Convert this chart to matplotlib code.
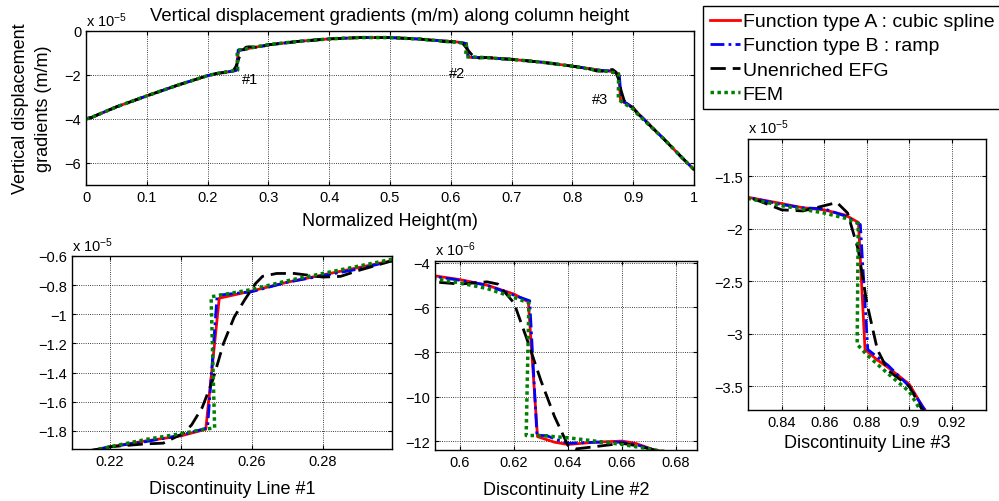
import matplotlib
matplotlib.use("Agg")
import matplotlib.pyplot as plt
import numpy as np
from matplotlib.ticker import FuncFormatter

plt.rcParams['font.family'] = ['Liberation Sans', 'DejaVu Sans']
plt.rcParams['mathtext.fontset'] = 'custom'
plt.rcParams['mathtext.rm'] = 'Liberation Sans'
plt.rcParams['mathtext.it'] = 'Liberation Sans'

# all gradient values in units of 1e-5 m/m
# smooth parts shared by all methods
base_left_x = [0.0, 0.01, 0.02, 0.05, 0.1, 0.15, 0.2]
base_left_y = [-4.0, -3.92, -3.80, -3.45, -2.95, -2.47, -2.03]
base_mid1_x = [0.35, 0.4, 0.45, 0.5, 0.55]
base_mid1_y = [-0.47, -0.36, -0.3, -0.3, -0.37]
base_mid2_x = [0.7, 0.75, 0.8]
base_mid2_y = [-1.29, -1.42, -1.6]
base_right_x = [0.95, 0.98, 1.0]
base_right_y = [-4.9, -5.75, -6.3]

# discontinuity #1
a1_x = [0.215, 0.22, 0.23, 0.24, 0.247, 0.2508, 0.26, 0.27, 0.28, 0.29, 0.3]
a1_y = [-1.935, -1.91, -1.87, -1.835, -1.79, -0.89, -0.84, -0.78, -0.73, -0.68, -0.63]
b1_x = [0.215, 0.22, 0.23, 0.24, 0.2475, 0.2502, 0.26, 0.27, 0.28, 0.29, 0.3]
b1_y = [-1.935, -1.91, -1.875, -1.83, -1.78, -0.87, -0.845, -0.78, -0.735, -0.69, -0.63]
e1_x = [0.215, 0.22, 0.23, 0.235, 0.2405, 0.243, 0.246, 0.249, 0.252, 0.255, 0.258,
        0.261, 0.263, 0.267, 0.272, 0.28, 0.285, 0.29, 0.3]
e1_y = [-1.935, -1.91, -1.89, -1.885, -1.82, -1.76, -1.64, -1.45, -1.2, -1.02, -0.9,
        -0.79, -0.74, -0.72, -0.72, -0.745, -0.74, -0.7, -0.63]
f1_x = [0.215, 0.22, 0.23, 0.24, 0.2465, 0.2495, 0.2485, 0.252, 0.26, 0.27, 0.28, 0.29, 0.3]
f1_y = [-1.935, -1.91, -1.86, -1.82, -1.79, -1.78, -0.88, -0.865, -0.83, -0.77, -0.72, -0.67, -0.62]

# discontinuity #2
a2_x = [0.59, 0.6, 0.61, 0.62, 0.6253, 0.6287, 0.635, 0.64, 0.65, 0.66, 0.665, 0.672]
a2_y = [-0.457, -0.475, -0.5, -0.54, -0.575, -1.18, -1.205, -1.215, -1.205, -1.2, -1.21, -1.24]
b2_x = [0.59, 0.6, 0.61, 0.62, 0.6258, 0.6285, 0.632, 0.635, 0.64, 0.65, 0.66, 0.665, 0.672]
b2_y = [-0.46, -0.478, -0.5, -0.545, -0.57, -1.175, -1.175, -1.19, -1.21, -1.205, -1.205, -1.215, -1.24]
e2_x = [0.59, 0.6, 0.605, 0.61, 0.614, 0.62, 0.625, 0.63, 0.635, 0.64, 0.643, 0.65, 0.66, 0.665, 0.672]
e2_y = [-0.485, -0.495, -0.49, -0.485, -0.495, -0.58, -0.75, -0.93, -1.09, -1.22, -1.235, -1.225,
        -1.21, -1.22, -1.24]
f2_x = [0.59, 0.6, 0.61, 0.62, 0.6255, 0.6245, 0.63, 0.64, 0.65, 0.66, 0.67, 0.672]
f2_y = [-0.47, -0.49, -0.515, -0.555, -0.58, -1.175, -1.175, -1.185, -1.2, -1.215, -1.235, -1.24]

# discontinuity #3
a3_x = [0.8241, 0.84, 0.85, 0.86, 0.87, 0.8761, 0.8792, 0.885, 0.89, 0.9, 0.9065]
a3_y = [-1.7, -1.76, -1.8, -1.82, -1.87, -1.94, -3.15, -3.25, -3.32, -3.48, -3.7]
b3_x = [0.8241, 0.84, 0.85, 0.86, 0.87, 0.877, 0.8805, 0.883, 0.89, 0.9, 0.9065]
b3_y = [-1.7, -1.77, -1.8, -1.81, -1.88, -1.96, -3.15, -3.19, -3.3, -3.5, -3.7]
e3_x = [0.8241, 0.83, 0.84, 0.85, 0.86, 0.866, 0.871, 0.876, 0.88, 0.885, 0.89, 0.9, 0.906]
e3_y = [-1.7, -1.74, -1.82, -1.83, -1.78, -1.75, -1.85, -2.2, -2.7, -3.15, -3.35, -3.5, -3.72]
f3_x = [0.8241, 0.84, 0.86, 0.87, 0.876, 0.8755, 0.88, 0.89, 0.9, 0.905]
f3_y = [-1.71, -1.78, -1.85, -1.9, -1.95, -3.1, -3.2, -3.38, -3.55, -3.72]

labels = ["Function type A : cubic spline", "Function type B : ramp",
          "Unenriched EFG", "FEM"]


def join(j1, j2, j3):
    xs = base_left_x + j1[0] + base_mid1_x + j2[0] + base_mid2_x + j3[0] + base_right_x
    ys = base_left_y + j1[1] + base_mid1_y + j2[1] + base_mid2_y + j3[1] + base_right_y
    return np.array(xs), np.array(ys)


series = [
    join((a1_x, a1_y), (a2_x, a2_y), (a3_x, a3_y)),
    join((b1_x, b1_y), (b2_x, b2_y), (b3_x, b3_y)),
    join((e1_x, e1_y), (e2_x, e2_y), (e3_x, e3_y)),
    join((f1_x, f1_y), (f2_x, f2_y), (f3_x, f3_y)),
]
styles = [
    dict(color=(1, 0, 0), ls='-', lw=2.0),
    dict(color=(0, 0, 1), ls=(0, (5, 1.5, 1, 1.5)), lw=2.0),
    dict(color='black', ls=(0, (5.5, 2.5)), lw=2.0),
    dict(color=(0, 0.5, 0), ls=(0, (1, 1)), lw=2.5),
]

fmt = FuncFormatter(lambda v, _: f"{v:g}".replace('-', '\u2212'))


def style_axes(ax, scale_text):
    ax.grid(True, ls=':', color='black', lw=0.6)
    ax.tick_params(direction='in', top=True, right=True, labelsize=10.5, length=3)
    for s in ax.spines.values():
        s.set_linewidth(1.0)
    ax.xaxis.set_major_formatter(fmt)
    ax.yaxis.set_major_formatter(fmt)
    ax.text(0, 1.012, scale_text, transform=ax.transAxes, ha='left', va='bottom', fontsize=10.5)


fig = plt.figure(figsize=(9.99, 5.02), dpi=100)

ax0 = fig.add_axes([0.0861, 0.6295, 0.6086, 0.3068])
ax1 = fig.add_axes([0.0721, 0.1036, 0.3203, 0.3845])
ax2 = fig.add_axes([0.4354, 0.1016, 0.2623, 0.3771])
ax3 = fig.add_axes([0.7487, 0.1813, 0.2382, 0.5398])

handles = []
for (x, y), st, lab in zip(series, styles, labels):
    h, = ax0.plot(x, y, label=lab, **st)
    handles.append(h)
    ax1.plot(x, y, **st)
    ax2.plot(x, y * 10, **st)
    ax3.plot(x, y, **st)

ax0.set_xlim(0, 1)
ax0.set_ylim(-7, 0)
ax0.set_xticks(np.arange(0, 1.01, 0.1))
ax0.set_yticks([-6, -4, -2, 0])
style_axes(ax0, r'x 10$^{-5}$')
ax0.set_title("Vertical displacement gradients (m/m) along column height", fontsize=13.3, pad=8)
ax0.set_xlabel("Normalized Height(m)", fontsize=13, labelpad=6)
ax0.set_ylabel("Vertical displacement\ngradients (m/m)", fontsize=13, labelpad=9,
               linespacing=1.5)
ax0.text(0.27, -2.18, "#1", fontsize=10.5, ha='center', va='center')
ax0.text(0.61, -1.9, "#2", fontsize=10.5, ha='center', va='center')
ax0.text(0.845, -3.1, "#3", fontsize=10.5, ha='center', va='center')

ax1.set_xlim(0.2093, 0.2995)
ax1.set_ylim(-1.925, -0.6)
ax1.set_xticks([0.22, 0.24, 0.26, 0.28])
ax1.set_yticks(np.arange(-1.8, -0.59, 0.2))
style_axes(ax1, r'x 10$^{-5}$')
ax1.set_xlabel("Discontinuity Line #1", fontsize=13, labelpad=9)

ax2.set_xlim(0.5907, 0.6878)
ax2.set_ylim(-12.4, -3.9)
ax2.set_xticks([0.6, 0.62, 0.64, 0.66, 0.68])
ax2.set_yticks([-12, -10, -8, -6, -4])
style_axes(ax2, r'x 10$^{-6}$')
ax2.set_xlabel("Discontinuity Line #2", fontsize=13, labelpad=9)

ax3.set_xlim(0.8241, 0.9361)
ax3.set_ylim(-3.726, -1.145)
ax3.set_xticks([0.84, 0.86, 0.88, 0.9, 0.92])
ax3.set_yticks([-3.5, -3, -2.5, -2, -1.5])
style_axes(ax3, r'x 10$^{-5}$')
ax3.set_xlabel("Discontinuity Line #3", fontsize=13, labelpad=4)

leg = fig.legend(handles=handles, loc='upper left', bbox_to_anchor=(0.7037, 0.986),
                 fontsize=14, handlelength=1.55, handletextpad=0.15, labelspacing=0.33,
                 borderpad=0.35, borderaxespad=0, fancybox=False, framealpha=1)
leg.get_frame().set_edgecolor('black')
leg.get_frame().set_linewidth(1.0)

fig.savefig("out.png", dpi=100)
